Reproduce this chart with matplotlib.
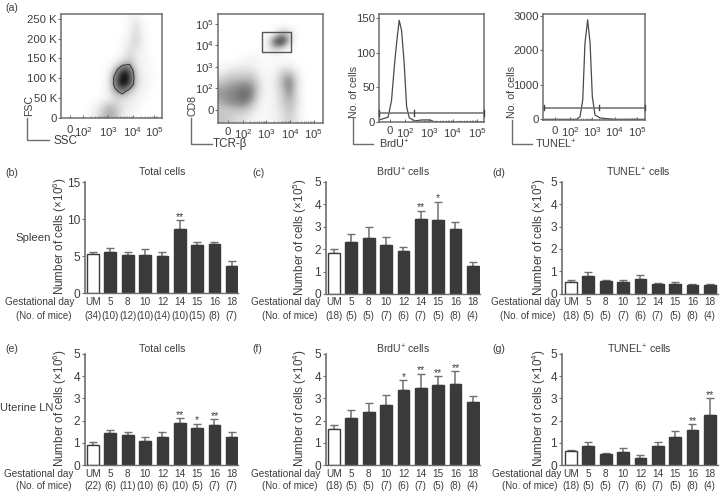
#!/usr/bin/env python3
from matplotlib import pyplot as plt
import numpy as np

# text colours and fonts
DARK = '#3d3d3d'
GRAY = '#6e6e6e'
BARC = '#3a3a3c'

plt.rcParams['font.family'] = ['Liberation Sans', 'DejaVu Sans']
plt.rcParams['mathtext.fontset'] = 'custom'
plt.rcParams['mathtext.rm'] = 'Liberation Sans'
plt.rcParams['mathtext.default'] = 'regular'
plt.rcParams['text.color'] = DARK
plt.rcParams['axes.edgecolor'] = GRAY
plt.rcParams['xtick.color'] = GRAY
plt.rcParams['ytick.color'] = GRAY
plt.rcParams['xtick.labelcolor'] = DARK
plt.rcParams['ytick.labelcolor'] = DARK

W, H = 720, 492

# ---- flow cytometry densities, read by eye (top row first, 0 = white, 1 = black)
fsc_ssc_density = [
    [0, 0, 0, 0, 0, 0, 0, 0, 0, .05, .12, 0, 0, 0],
    [0, 0, 0, 0, 0, 0, 0, 0, 0, .08, .25, .05, 0, 0],
    [0, 0, 0, 0, 0, 0, 0, 0, 0, .10, .25, .05, 0, 0],
    [0, 0, 0, 0, 0, 0, 0, 0, .03, .15, .30, .08, 0, 0],
    [0, 0, 0, 0, 0, 0, 0, 0, .05, .20, .20, .08, 0, 0],
    [0, 0, 0, 0, 0, 0, 0, 0, .08, .25, .15, .08, 0, 0],
    [0, 0, 0, 0, 0, 0, 0, .10, .25, .40, .15, .08, .03, 0],
    [0, 0, 0, 0, 0, 0, .05, .35, .85, .75, .20, .08, .05, 0],
    [0, 0, 0, 0, 0, 0, .10, .60, 1, .90, .25, .10, .05, 0],
    [0, 0, 0, 0, 0, 0, .12, .60, 1, .80, .25, .10, .05, 0],
    [0, 0, 0, 0, 0, 0, .10, .40, .60, .30, .15, .08, 0, 0],
    [0, 0, 0, 0, 0, .05, .12, .20, .20, .15, .10, .05, 0, 0],
    [0, 0, 0, 0, .08, .20, .40, .35, .20, .12, .08, 0, 0, 0],
    [0, 0, 0, .03, .10, .30, .45, .40, .15, .08, .03, 0, 0, 0],
]
cd8_tcr_density = [
    [0, 0, 0, 0, 0, 0, 0, 0, 0, 0, 0, 0, 0, 0],
    [0, 0, 0, 0, 0, 0, 0, 0, 0, 0, 0, 0, 0, 0],
    [0, 0, 0, 0, 0, 0, 0, .10, .45, .30, 0, 0, 0, 0],
    [0, 0, 0, 0, 0, 0, .12, .80, 1, .30, 0, 0, 0, 0],
    [0, 0, 0, 0, 0, 0, .10, .30, .20, 0, 0, 0, 0, 0],
    [0, 0, 0, .03, .08, .05, 0, .05, 0, 0, 0, 0, 0, 0],
    [.03, .06, .10, .12, .12, .06, .03, .05, .10, .10, 0, 0, 0, 0],
    [.12, .22, .25, .25, .25, .12, .03, .10, .30, .35, .15, 0, 0, 0],
    [.30, .38, .40, .42, .40, .20, .05, .15, .40, .60, .20, 0, 0, 0],
    [.45, .50, .55, .60, .55, .25, .05, .15, .35, .60, .20, 0, 0, 0],
    [.50, .55, .60, .70, .55, .20, .05, .12, .30, .50, .20, 0, 0, 0],
    [.40, .50, .55, .55, .40, .12, .05, .12, .28, .40, .20, 0, 0, 0],
    [.30, .30, .30, .30, .20, .08, .05, .12, .20, .35, .18, 0, 0, 0],
    [.35, .30, .25, .20, .10, .05, .05, .10, .20, .30, .15, 0, 0, 0],
]

# histograms: decade position, count
brdu_x = [.93, 1.30, 1.44, 1.58, 1.68, 1.76, 1.86, 1.96, 2.07, 2.18, 2.42, 2.70, 3.04, 3.25, 5.29]
brdu_y = [3, 7, 31, 89, 123, 147, 132, 89, 22, 6, 1.5, 3, 3, 0, 0]
tunel_x = [.83, 2.30, 2.45, 2.57, 2.67, 2.79, 2.90, 3.00, 3.12, 3.35, 3.93, 5.36]
tunel_y = [0, 0, 78, 560, 2210, 2890, 2210, 660, 126, 39, 0, 0]

log_labels = ['0', '10$^{2}$', '10$^{3}$', '10$^{4}$', '10$^{5}$']

# ---- bar data
days = ['UM', '5', '8', '10', '12', '14', '15', '16', '18']

b_vals = [5.3, 5.5, 5.1, 5.2, 5.05, 8.7, 6.5, 6.65, 3.7]
b_tops = [5.6, 6.1, 5.5, 5.9, 5.6, 9.8, 6.95, 6.95, 4.3]
b_mice = ['(34)', '(10)', '(12)', '(10)', '(14)', '(10)', '(15)', '(8)', '(7)']
b_sig = ['', '', '', '', '', '**', '', '', '']

c_vals = [1.85, 2.3, 2.5, 2.2, 1.9, 3.35, 3.3, 2.9, 1.25]
c_tops = [2.0, 2.7, 3.0, 2.55, 2.12, 3.72, 4.1, 3.2, 1.45]
c_mice = ['(18)', '(5)', '(5)', '(7)', '(6)', '(7)', '(5)', '(8)', '(4)']
c_sig = ['', '', '', '', '', '**', '*', '', '']

d_vals = [.5, .8, .55, .5, .65, .42, .42, .38, .37]
d_tops = [.62, .97, .6, .62, .82, .46, .52, .42, .42]
d_sig = [''] * 9

e_vals = [.92, 1.43, 1.33, 1.07, 1.27, 1.9, 1.65, 1.8, 1.27]
e_tops = [1.03, 1.57, 1.47, 1.27, 1.5, 2.1, 1.85, 2.05, 1.47]
e_mice = ['(22)', '(6)', '(11)', '(10)', '(6)', '(10)', '(5)', '(7)', '(7)']
e_sig = ['', '', '', '', '', '**', '*', '**', '']

f_vals = [1.62, 2.1, 2.4, 2.7, 3.4, 3.45, 3.6, 3.65, 2.85]
f_tops = [1.82, 2.5, 2.8, 3.15, 3.82, 4.12, 4.0, 4.22, 3.1]
f_sig = ['', '', '', '', '*', '**', '**', '**', '']

g_vals = [.62, .87, .48, .58, .33, .87, 1.27, 1.57, 2.25]
g_tops = [.67, 1.02, .53, .78, .43, 1.02, 1.55, 1.83, 3.0]
g_sig = ['', '', '', '', '', '', '', '**', '**']


def pxaxes(left, top, right, bottom):
    return plt.gcf().add_axes([left / W, 1 - bottom / H, (right - left) / W, (bottom - top) / H])


def pxtext(x, y, s, **kw):
    kw.setdefault('va', 'center')
    kw.setdefault('ha', 'left')
    kw.setdefault('fontsize', 7.6)
    return plt.gcf().text(x / W, 1 - y / H, s, **kw)


def pxline(xs, ys):
    plt.gcf().add_artist(plt.Line2D([x / W for x in xs], [1 - y / H for y in ys],
                                    color=GRAY, lw=1.0))


def minor_decades(start, stop):
    return [k + np.log10(m) for k in range(start, stop) for m in range(2, 10)]


def flow_axes(box, xlim, ylim, xticks, yticks, ylabels, pad):
    ax = pxaxes(*box)
    ax.set_xlim(xlim)
    ax.set_ylim(ylim)
    ax.set_xticks(xticks)
    ax.set_xticklabels(log_labels, fontsize=8.2)
    ax.set_yticks(yticks)
    ax.set_yticklabels(ylabels, fontsize=8.2)
    ax.set_xticks(minor_decades(2, 5), minor=True)
    ax.tick_params(axis='x', length=2, width=.7, direction='in', pad=pad)
    ax.tick_params(axis='x', which='minor', length=1.2, width=.5, direction='in')
    ax.tick_params(axis='y', length=2, width=.8, pad=1)
    for s in ax.spines.values():
        s.set_linewidth(1.1)
    return ax


def density(ax, grid, xlim, ylim):
    ext = [xlim[0], xlim[1], ylim[0], ylim[1]]
    ax.imshow(grid, cmap='Greys', vmin=0, vmax=1, extent=ext, aspect='auto',
              interpolation='bicubic', zorder=1)


def gate(ax, x0, x1, xmid, y):
    ax.plot([x0, x1], [y, y], color=GRAY, lw=1.1, zorder=3)
    h = (ax.get_ylim()[1] - ax.get_ylim()[0]) * .025
    for x in (x0, xmid, x1):
        ax.plot([x, x], [y - h, y + h], color='#444444', lw=1.0, zorder=3, clip_on=False)


def barpanel(left, right, first, top, bottom, title, title_x, title_y, ylab, ylab_x, vals, tops, sig,
             yticks, ymax, mice, day_end, mice_end, day_y, mice_y):
    ax = pxaxes(left, top, right, bottom)
    step = 17.35
    ax.set_xlim((left - first) / step, (right - first) / step)
    ax.set_ylim(0, ymax)
    pos = np.arange(len(vals))
    colors = ['white'] + [BARC] * (len(vals) - 1)
    ax.errorbar(pos, vals, yerr=[np.zeros(len(vals)), np.array(tops) - np.array(vals)],
                fmt='none', ecolor='#707070', elinewidth=1.1, capsize=2.8, capthick=1.0, zorder=1)
    ax.bar(pos, vals, width=.68, color=colors, edgecolor=BARC, linewidth=1.0, zorder=2)
    for i, s in enumerate(sig):
        if s:
            ax.annotate(s, (i, tops[i]), xytext=(0, -1), textcoords='offset points',
                        ha='center', va='bottom', fontsize=7.5)
    for side in ('top', 'right'):
        ax.spines[side].set_visible(False)
    ax.spines['left'].set_linewidth(1.2)
    ax.spines['bottom'].set_linewidth(1.0)
    ax.set_yticks(yticks)
    ax.set_yticklabels([str(t) for t in yticks], fontsize=8.6)
    ax.tick_params(axis='y', length=2, width=.8, pad=1.5)
    ax.set_xticks([])
    for i, (d, m) in enumerate(zip(days, mice)):
        x = first + i * step
        pxtext(x, day_y, d, ha='center', fontsize=7.2)
        pxtext(x, mice_y, m, ha='center', fontsize=7.0)
    pxtext(day_end, day_y, 'Gestational day', ha='right', fontsize=7.2)
    pxtext(mice_end, mice_y, '(No. of mice)', ha='right', fontsize=7.0)
    pxtext(title_x, title_y, title, ha='center', fontsize=7.6)
    pxtext(ylab_x, (top + bottom) / 2 - 1, 'Number of cells (×10$^{%s}$)' % ylab,
           ha='center', rotation=90, fontsize=8.4)
    return ax


fig = plt.figure(figsize=(W / 100, H / 100), dpi=100)

# ---- (a) flow panels
xlim1 = (1.12, 5.16)
ylim1 = (0, 262)
ax = flow_axes((61, 14, 162, 118), xlim1, ylim1, [1.48, 2, 3, 4, 4.84],
               [0, 50, 100, 150, 200, 250], ['0', '50 K', '100 K', '150 K', '200 K', '250 K'], 5)
density(ax, fsc_ssc_density, xlim1, ylim1)
# gate ring around the main population
cols = np.linspace(xlim1[0], xlim1[1], 29)[1::2]
rows = np.linspace(ylim1[1], ylim1[0], 29)[1::2]
ax.contour(cols, rows, fsc_ssc_density, levels=[.5], colors='#333333', linewidths=.7, zorder=2)

xlim2 = (.94, 5.4)
ylim2 = (.36, 5.47)
ax = flow_axes((218, 14, 323, 123), xlim2, ylim2, [1.36, 2, 3, 4, 5],
               [.97, 2, 3, 4, 5], ['0', '10$^{2}$', '10$^{3}$', '10$^{4}$', '10$^{5}$'], 3)
density(ax, cd8_tcr_density, xlim2, ylim2)
ax.add_patch(plt.Rectangle((2.81, 3.69), 1.23, .94, fill=False, edgecolor='#555555', lw=1.0, zorder=4))

xlim3 = (.92, 5.29)
ax = flow_axes((379, 14, 484, 122), xlim3, (0, 156), [1.38, 2, 3, 4, 5],
               [0, 50, 100, 150], ['0', '50', '100', '150'], 3)
ax.plot(brdu_x, brdu_y, color='#4a4a4a', lw=.9, zorder=2)
gate(ax, .93, 5.28, 2.375, 13)

xlim4 = (.79, 5.36)
ax = flow_axes((543, 14, 645, 120), xlim4, (-20, 3060), [1.33, 2, 3, 4, 5],
               [0, 1000, 2000, 3000], ['0', '1000', '2000', '3000'], 4)
ax.plot(tunel_x, tunel_y, color='#4a4a4a', lw=.9, zorder=2)
gate(ax, .83, 5.35, 3.3, 340)

pxtext(5, 8, '(a)')
pxtext(29, 105, 'FSC', rotation=90, ha='center')
pxline([27, 27, 49], [118, 140, 140])
pxtext(53, 141, 'SSC', fontsize=8.4)
pxtext(192, 105, 'CD8', rotation=90, ha='center')
pxline([191, 191, 212], [118, 144, 144])
pxtext(213, 144.5, 'TCR-β', fontsize=8.4)
pxtext(354, 92, 'No. of cells', rotation=90, ha='center')
pxline([353, 353, 373], [118, 144, 144])
pxtext(379, 144.5, 'BrdU$^{+}$', fontsize=7.8)
pxtext(512, 92, 'No. of cells', rotation=90, ha='center')
pxline([512, 512, 532], [120, 144, 144])
pxtext(535, 144.5, 'TUNEL$^{+}$', fontsize=7.8)

# ---- (b)-(g) bars
five = [0, 1, 2, 3, 4, 5]
barpanel(85, 238, 93, 182, 293, 'Total cells', 162, 172, '6', 60, b_vals, b_tops, b_sig,
         [0, 5, 10, 15], 15, b_mice, 74, 72, 302, 316)
barpanel(326, 480, 334, 182, 294, 'BrdU$^{+}$ cells', 403, 172, '5', 300, c_vals, c_tops, c_sig,
         five, 5, c_mice, 320, 318, 302, 316)
barpanel(562, 718, 571, 182, 293.5, 'TUNEL$^{+}$ cells', 638, 172, '5', 539, d_vals, d_tops, d_sig,
         five, 5, c_mice, 560, 555, 302, 316)
barpanel(85, 238, 93, 354, 465, 'Total cells', 162, 349, '6', 60, e_vals, e_tops, e_sig,
         five, 5, e_mice, 73, 71, 474, 486)
barpanel(326, 480, 334, 354, 465, 'BrdU$^{+}$ cells', 403, 349, '4', 300, f_vals, f_tops, f_sig,
         five, 5, c_mice, 320, 317, 474, 486)
barpanel(562, 718, 571, 354, 465, 'TUNEL$^{+}$ cells', 639, 349, '4', 539, g_vals, g_tops, g_sig,
         five, 5, c_mice, 561, 557, 474, 486)

for x, y, s in [(5, 173, '(b)'), (252, 173, '(c)'), (492, 173, '(d)'),
                (5, 349, '(e)'), (252, 349, '(f)'), (492, 349, '(g)')]:
    pxtext(x, y, s)
pxtext(15, 238, 'Spleen', fontsize=8.2)
pxtext(0, 408, 'Uterine LN', fontsize=8)

fig.savefig('out.png', dpi=100)
